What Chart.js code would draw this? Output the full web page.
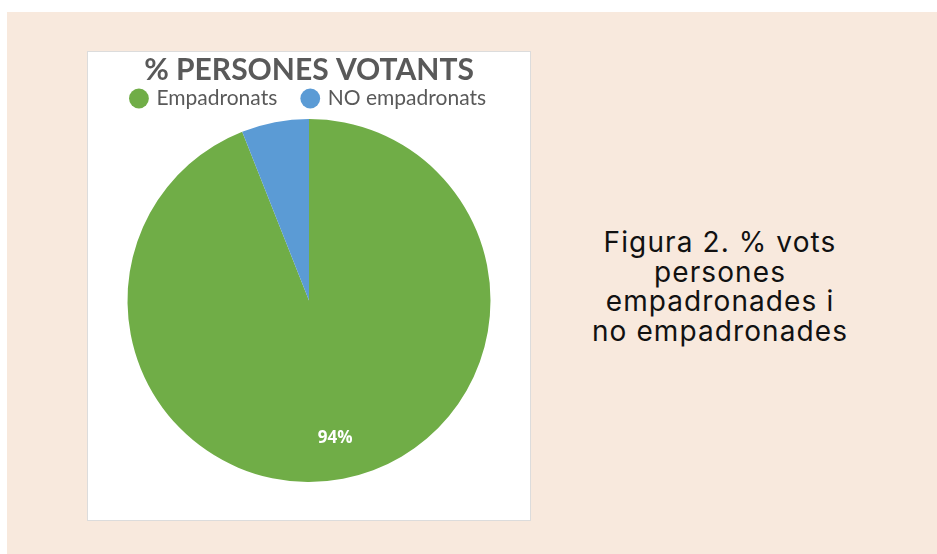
<!DOCTYPE html>
<html>
<head>
<meta charset="utf-8">
<script src="https://cdn.jsdelivr.net/npm/chart.js@4"></script>
<style>
  body { margin: 0; background: #fff; width: 937px; height: 554px; position: relative; overflow: hidden; }
  .bg { position: absolute; left: 7px; top: 12px; width: 930px; height: 542px; background: #f8e9dd; }
  .box { position: absolute; left: 87px; top: 51px; width: 442px; height: 468px; background: #fff; border: 1px solid #dcdcdc; }
  .caption { position: absolute; left: 560px; top: 228px; width: 320px; text-align: center;
    font-family: Inter, sans-serif; font-size: 28px; letter-spacing: 1.1px; line-height: 29.5px; color: #111; }
</style>
</head>
<body>
<div class="bg"></div>
<div class="box"><canvas id="chart" width="442" height="468"></canvas></div>
<div class="caption">Figura 2. % vots<br>persones<br>empadronades i<br>no empadronades</div>

<script>
// DATA
let labels = ["Empadronats", "NO empadronats"];
let values = [94, 6];
let colors = ["#70ad47", "#5b9bd5"];
let shownLabels = ["94%", ""];

// LABELS ON SLICES
let sliceLabels = {
  id: "sliceLabels",
  afterDatasetsDraw(chart) {
    let ctx = chart.ctx;
    let meta = chart.getDatasetMeta(0);
    meta.data.forEach((arc, i) => {
      if (!shownLabels[i]) return;
      let p = arc.getProps(["x", "y", "startAngle", "endAngle", "outerRadius"], true);
      let mid = (p.startAngle + p.endAngle) / 2;
      let r = p.outerRadius * 0.77;
      ctx.save();
      ctx.fillStyle = "#fff";
      ctx.font = "bold 17px 'Open Sans', sans-serif";
      ctx.textAlign = "center";
      ctx.textBaseline = "middle";
      ctx.fillText(shownLabels[i], p.x + Math.cos(mid) * r, p.y + Math.sin(mid) * r);
      ctx.restore();
    });
  }
};

// CHART
new Chart(document.getElementById("chart"), {
  type: "pie",
  data: {
    labels: labels,
    datasets: [{
      data: values,
      backgroundColor: colors,
      borderWidth: 0
    }]
  },
  options: {
    responsive: false,
    animation: false,
    layout: { padding: { top: 0, bottom: 38 } },
    plugins: {
      title: {
        display: true,
        text: "% PERSONES VOTANTS",
        color: "#595959",
        font: { family: "Lato", size: 30, weight: "bold" },
        padding: { top: 0, bottom: -26 }
      },
      legend: {
        position: "top",
        labels: {
          usePointStyle: true,
          pointStyle: "circle",
          boxWidth: 14,
          boxHeight: 14,
          color: "#595959",
          font: { family: "Lato", size: 21 },
          padding: 26
        }
      },
      tooltip: { enabled: false }
    }
  },
  plugins: [sliceLabels]
});
</script>
</body>
</html>
